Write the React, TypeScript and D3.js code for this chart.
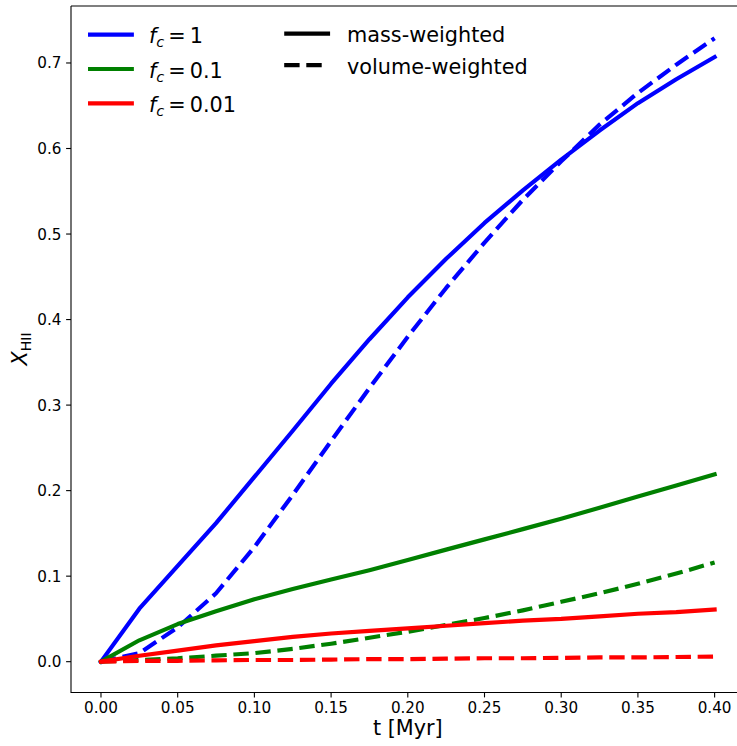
import React, { useEffect, useRef } from "react";
import * as d3 from "d3";

const tValues = [0, 0.025, 0.05, 0.075, 0.1, 0.125, 0.15, 0.175, 0.2, 0.225, 0.25, 0.275, 0.3, 0.325, 0.35, 0.375, 0.4];

const blueMass = [0, 0.062, 0.112, 0.162, 0.216, 0.27, 0.325, 0.377, 0.426, 0.471, 0.513, 0.551, 0.587, 0.621, 0.653, 0.681, 0.707];
const blueVolume = [0, 0.01, 0.04, 0.08, 0.134, 0.195, 0.258, 0.32, 0.38, 0.437, 0.49, 0.54, 0.585, 0.628, 0.665, 0.698, 0.729];
const greenMass = [0, 0.025, 0.044, 0.059, 0.073, 0.085, 0.096, 0.107, 0.119, 0.131, 0.143, 0.155, 0.167, 0.18, 0.193, 0.206, 0.219];
const greenVolume = [0, 0.002, 0.004, 0.007, 0.01, 0.015, 0.021, 0.028, 0.035, 0.043, 0.051, 0.06, 0.07, 0.08, 0.091, 0.103, 0.116];
const redMass = [0, 0.007, 0.013, 0.019, 0.024, 0.029, 0.033, 0.036, 0.039, 0.042, 0.045, 0.048, 0.05, 0.053, 0.056, 0.058, 0.061];
const redVolume = [0, 0.001, 0.001, 0.0015, 0.002, 0.002, 0.0025, 0.003, 0.003, 0.0035, 0.004, 0.004, 0.0045, 0.005, 0.005, 0.0055, 0.006];

const xTicks = [0, 0.05, 0.1, 0.15, 0.2, 0.25, 0.3, 0.35, 0.4];
const yTicks = [0, 0.1, 0.2, 0.3, 0.4, 0.5, 0.6, 0.7];

const fcLabels = ["1", "0.1", "0.01"];
const fcColors = ["#0000ff", "#008000", "#ff0000"];
const weightLabels = ["mass-weighted", "volume-weighted"];

const W = 737;
const H = 746;
const LW = 4.17;
const DASH = "15.4,6.7";
const FONT = "'DejaVu Sans', sans-serif";

export default function App() {
  const ref = useRef<SVGSVGElement>(null);

  useEffect(() => {
    document.body.style.margin = "0";
    const svg = d3.select(ref.current);
    svg.selectAll("*").remove();

    const x = d3.scaleLinear().domain([-0.02, 0.42]).range([70.3, 745.3]);
    const y = d3.scaleLinear().domain([-0.0365, 0.7665]).range([692.9, 6.1]);

    svg.append("rect").attr("width", W).attr("height", H).attr("fill", "white");

    const series = [
      { vals: blueMass, color: fcColors[0], dashed: false },
      { vals: blueVolume, color: fcColors[0], dashed: true },
      { vals: greenMass, color: fcColors[1], dashed: false },
      { vals: greenVolume, color: fcColors[1], dashed: true },
      { vals: redMass, color: fcColors[2], dashed: false },
      { vals: redVolume, color: fcColors[2], dashed: true },
    ];

    const line = d3
      .line<number>()
      .x((_, i) => x(tValues[i]))
      .y((d) => y(d));

    const plot = svg.append("g");
    series.forEach((s) => {
      plot
        .append("path")
        .attr("d", line(s.vals))
        .attr("fill", "none")
        .attr("stroke", s.color)
        .attr("stroke-width", LW)
        .attr("stroke-linejoin", "round")
        .attr("stroke-linecap", s.dashed ? "butt" : "square")
        .attr("stroke-dasharray", s.dashed ? DASH : null);
    });

    // spines
    const [x0, x1] = x.range();
    const [y0, y1] = y.range();
    const spine = svg.append("g").attr("stroke", "black").attr("stroke-width", 1.1).attr("fill", "none");
    spine.append("line").attr("x1", 71).attr("x2", 71).attr("y1", y0).attr("y2", y1);
    spine.append("line").attr("x1", 71).attr("x2", x1).attr("y1", 6).attr("y2", 6);
    spine.append("line").attr("x1", 71).attr("x2", x1).attr("y1", 692.5).attr("y2", 692.5);

    // x ticks
    const xt = svg.append("g");
    xTicks.forEach((t) => {
      xt.append("line")
        .attr("x1", x(t)).attr("x2", x(t))
        .attr("y1", 692.5).attr("y2", 697.4)
        .attr("stroke", "black").attr("stroke-width", 1.1);
      xt.append("text")
        .attr("x", x(t)).attr("y", 712.7)
        .attr("text-anchor", "middle")
        .attr("font-family", FONT).attr("font-size", 15.2)
        .attr("fill", "black")
        .text(d3.format(".2f")(t));
    });

    // y ticks
    const yt = svg.append("g");
    yTicks.forEach((t) => {
      yt.append("line")
        .attr("x1", 71).attr("x2", 66.1)
        .attr("y1", y(t)).attr("y2", y(t))
        .attr("stroke", "black").attr("stroke-width", 1.1);
      yt.append("text")
        .attr("x", 61.5).attr("y", y(t) + 5.5)
        .attr("text-anchor", "end")
        .attr("font-family", FONT).attr("font-size", 15.2)
        .attr("fill", "black")
        .text(d3.format(".1f")(t));
    });

    // x label
    svg.append("text")
      .attr("x", (x0 + x1) / 2).attr("y", 734.5)
      .attr("text-anchor", "middle")
      .attr("font-family", FONT).attr("font-size", 20.8)
      .text("t [Myr]");

    // y label
    const yl = svg.append("text")
      .attr("transform", "translate(27,349) rotate(-90)")
      .attr("text-anchor", "middle")
      .attr("font-family", FONT).attr("font-size", 20.8);
    yl.append("tspan").attr("font-style", "italic").text("X");
    yl.append("tspan").attr("font-size", 14).attr("dy", 4).text("HII");

    // legend 1
    const lg = svg.append("g");
    fcLabels.forEach((lab, i) => {
      const ly = 34.7 + i * 34.3;
      lg.append("line")
        .attr("x1", 90.1).attr("x2", 131.8)
        .attr("y1", ly).attr("y2", ly)
        .attr("stroke", fcColors[i]).attr("stroke-width", LW)
        .attr("stroke-linecap", "square");
      const tx = lg.append("text")
        .attr("x", 149).attr("y", ly + 8.5)
        .attr("font-family", FONT).attr("font-size", 20.8);
      tx.append("tspan").attr("font-style", "italic").text("f");
      tx.append("tspan").attr("font-style", "italic").attr("font-size", 14.5).attr("dy", 4).text("c");
      tx.append("tspan").attr("dy", -4).attr("dx", 4).text("=");
      tx.append("tspan").attr("dx", 4).text(lab);
    });

    // legend 2
    weightLabels.forEach((lab, i) => {
      const ly = 33.7 + i * 31.5;
      lg.append("line")
        .attr("x1", i === 0 ? 286.3 : 284.2).attr("x2", i === 0 ? 328 : 325.9)
        .attr("y1", ly).attr("y2", ly)
        .attr("stroke", "black").attr("stroke-width", LW)
        .attr("stroke-linecap", i === 0 ? "square" : "butt")
        .attr("stroke-dasharray", i === 0 ? null : DASH);
      lg.append("text")
        .attr("x", 347).attr("y", ly + 8.5)
        .attr("font-family", FONT).attr("font-size", 20.8)
        .text(lab);
    });
  }, []);

  return (
    <svg
      ref={ref}
      width={W}
      height={H}
      style={{ position: "absolute", left: 0, top: 0, display: "block" }}
    />
  );
}
